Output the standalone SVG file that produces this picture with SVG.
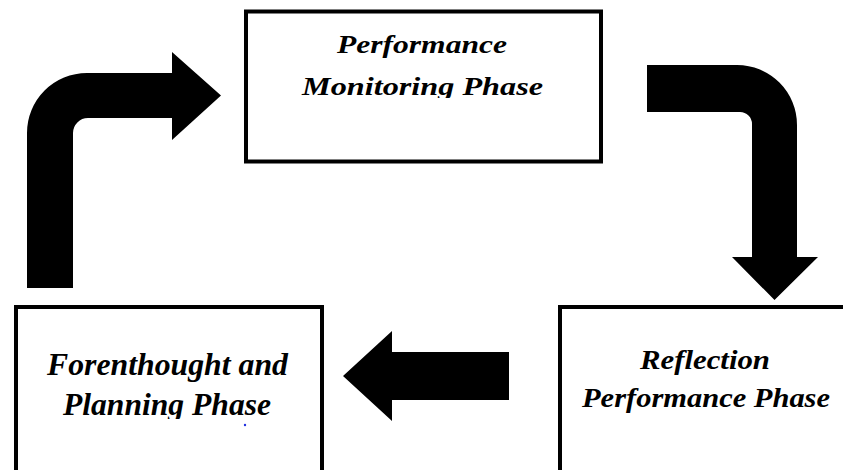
<svg xmlns="http://www.w3.org/2000/svg" width="843" height="470" viewBox="0 0 843 470">
  <style>
    .box { fill: #ffffff; stroke: #000000; stroke-width: 4; }
    .lbl { font-family: "Liberation Serif", "Times New Roman", serif; font-weight: bold; font-style: italic; fill: #000000; }
    .arrow { fill: #000000; stroke: none; }
  </style>
  <defs>
    <clipPath id="clipTop"><rect x="240" y="0" width="370" height="98"/></clipPath>
    <clipPath id="clipLeft"><rect x="10" y="300" width="320" height="119"/></clipPath>
  </defs>
  <rect x="0" y="0" width="843" height="470" fill="#ffffff"/>

  <g id="connectors">
    <path class="arrow" d="M 27 288 L 27 133 A 60 60 0 0 1 87 73 L 172 73 L 172 52 L 221 95.5 L 172 140 L 172 118 L 88 118 A 15 15 0 0 0 73 133 L 73 288 Z"/>
    <path class="arrow" d="M 647 65 L 737 65 A 60 60 0 0 1 797 125 L 797 257 L 818 257 L 774.5 300 L 732 257 L 752 257 L 752 124 A 12 12 0 0 0 740 112 L 647 112 Z"/>
    <path class="arrow" d="M 509 352 L 392 352 L 392 331 L 343 376 L 392 421 L 392 400 L 509 400 Z"/>
  </g>

  <g id="monitoring">
    <rect class="box" x="246" y="11.5" width="355" height="150"/>
    <g clip-path="url(#clipTop)">
      <text class="lbl" x="337" y="53" font-size="26" textLength="170" lengthAdjust="spacingAndGlyphs">Performance</text>
      <text class="lbl" x="302" y="94.5" font-size="26" textLength="241" lengthAdjust="spacingAndGlyphs">Monitoring Phase</text>
    </g>
  </g>

  <g id="forethought">
    <rect class="box" x="16" y="307" width="306" height="175"/>
    <g clip-path="url(#clipLeft)">
      <text class="lbl" x="47" y="374.5" font-size="31" textLength="241" lengthAdjust="spacingAndGlyphs">Forenthought and</text>
      <text class="lbl" x="63" y="415" font-size="31" textLength="208" lengthAdjust="spacingAndGlyphs">Planning Phase</text>
    </g>
    <circle cx="245" cy="425" r="1.2" fill="#2030e0"/>
  </g>

  <g id="reflection">
    <rect class="box" x="560" y="307" width="300" height="175"/>
    <text class="lbl" x="640" y="369" font-size="27" textLength="130" lengthAdjust="spacingAndGlyphs">Reflection</text>
    <text class="lbl" x="582" y="407" font-size="27" textLength="248" lengthAdjust="spacingAndGlyphs">Performance Phase</text>
  </g>
</svg>
